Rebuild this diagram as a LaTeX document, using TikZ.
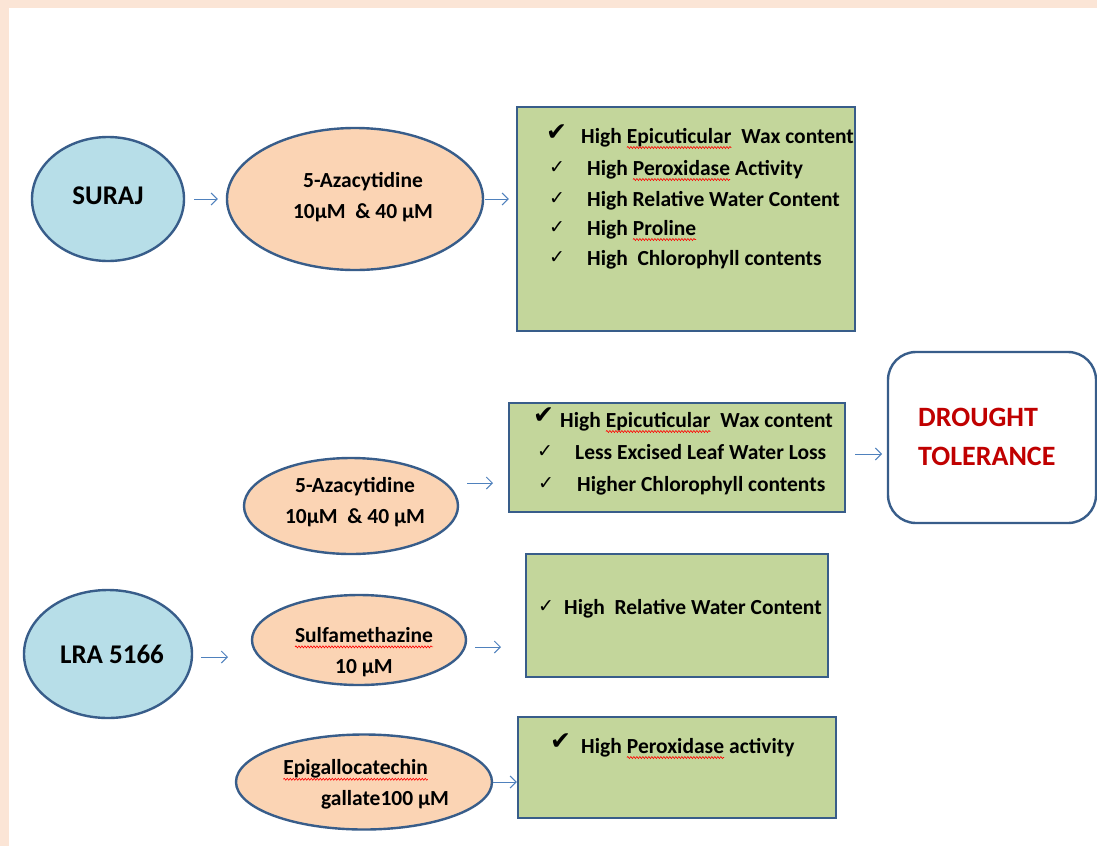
\documentclass[tikz,border=0pt]{standalone}
\usepackage{fontspec}
\setmainfont{Carlito}
\newfontfamily\dejavu{DejaVu Sans}
\usetikzlibrary{arrows.meta,shapes.geometric,decorations.pathmorphing}
\definecolor{peach}{HTML}{FBE5D6}
\definecolor{ellblue}{HTML}{B7DEE8}
\definecolor{ellpeach}{HTML}{FBD4B4}
\definecolor{boxgreen}{HTML}{C3D69B}
\definecolor{bord}{HTML}{385D8A}
\definecolor{arrblue}{HTML}{4F81BD}
\definecolor{dred}{HTML}{C00000}
\newcommand\sq[1]{\tikz[baseline=(w.base),x=1pt,y=1pt]{\node[inner sep=0pt,outer sep=0pt,anchor=base west](w) at (0,0){#1};
  \draw[red,line width=0.6pt,decorate,decoration={snake,amplitude=1pt,segment length=3pt}] ([yshift=-4.5pt]w.base west) -- ([yshift=-4.5pt]w.base east);}}
\begin{document}
\begin{tikzpicture}[x=1pt,y=-1pt,
  ell/.style={ellipse, draw=bord, line width=2.4pt, inner sep=0pt},
  blueell/.style={ell, fill=ellblue},
  peachell/.style={ell, fill=ellpeach},
  gbox/.style={rectangle, draw=bord, line width=2.4pt, fill=boxgreen, inner sep=0pt},
  arr/.style={draw=arrblue, line width=1pt, -{Straight Barb[length=6pt,width=12pt]}},
  txt/.style={font=\bfseries\fontsize{21.5}{31}\selectfont, inner sep=0pt, align=center},
  item/.style={font=\bfseries\fontsize{21.5}{24}\selectfont, inner sep=0pt, anchor=base west},
  chk/.style={font=\dejavu\fontsize{19}{22}\selectfont, inner sep=0pt, anchor=base west},
  bigchk/.style={font=\dejavu\fontsize{25}{28}\selectfont, inner sep=0pt, anchor=base west}]
% background
\fill[peach] (0,0) rectangle (1097,846);
\fill[white] (9,8) rectangle (1097,846);
\useasboundingbox (0,0) rectangle (1097,846);

% nodes
\node[blueell, minimum width=152pt, minimum height=124pt] (suraj) at (108,199) {};
\node[txt, font=\bfseries\fontsize{27}{30}\selectfont] (surajt) at (108,196) {SURAJ};
\node[peachell, minimum width=256pt, minimum height=142pt] (aza1) at (355,199) {};
\node[txt] (aza1t) at (363,197) {5-Azacytidine\\10μM~~\& 40 μM};
\node[gbox, minimum width=338pt, minimum height=224pt] (b1) at (686,219) {};

\node[peachell, minimum width=214pt, minimum height=96pt] (aza2) at (351,506) {};
\node[txt] (aza2t) at (355,502) {5-Azacytidine\\10μM~~\& 40 μM};
\node[gbox, minimum width=336pt, minimum height=109pt] (b2) at (677,457.5) {};
\node[rectangle, rounded corners=28pt, draw=bord, line width=2.4pt, fill=white,
      minimum width=208pt, minimum height=171pt] (dt) at (992,437.5) {};
\node[font=\bfseries\fontsize{28}{39}\selectfont, text=dred, align=left, inner sep=0pt,
      anchor=west] (dtt) at (918,437) {DROUGHT\\TOLERANCE};

\node[blueell, minimum width=168pt, minimum height=128pt] (lra) at (108,654) {};
\node[txt, font=\bfseries\fontsize{27}{30}\selectfont] (lrat) at (112,654) {LRA 5166};
\node[peachell, minimum width=214pt, minimum height=90pt] (sulfa) at (359,640) {};
\node[txt] (sulfat) at (364,652) {\sq{Sulfamethazine}\\10 μM};
\node[gbox, minimum width=302pt, minimum height=123pt] (b3) at (677,615.5) {};

\node[peachell, minimum width=256pt, minimum height=95pt] (epi) at (364,782) {};
\node[txt, align=left] (epit) at (366,784.5) {\sq{Epigallocatechin}\\\hspace*{38pt}gallate100 μM};
\node[gbox, minimum width=318pt, minimum height=101pt] (b4) at (677,767.5) {};

% box items
\node[bigchk] (c11) at (546,140) {✔};
\node[item] (i11) at (581,143) {High \sq{Epicuticular}~~Wax content};
\node[chk] (c12) at (549,173) {✓};
\node[item] (i12) at (587,175) {High \sq{Peroxidase} Activity};
\node[chk] (c13) at (549,204) {✓};
\node[item] (i13) at (587,206) {High Relative Water Content};
\node[chk] (c14) at (549,233) {✓};
\node[item] (i14) at (587,235) {High \sq{Proline}};
\node[chk] (c15) at (549,263) {✓};
\node[item] (i15) at (587,265) {High~~Chlorophyll~contents};

\node[bigchk] (c21) at (533,423) {✔};
\node[item] (i21) at (560,427) {High \sq{Epicuticular}~~Wax content};
\node[chk] (c22) at (537,457) {✓};
\node[item] (i22) at (575,459) {Less Excised Leaf Water Loss};
\node[chk] (c23) at (538,489) {✓};
\node[item] (i23) at (577,491) {Higher Chlorophyll contents};

\node[chk] (c31) at (538,612) {✓};
\node[item] (i31) at (564,614) {High~~Relative Water Content};

\node[bigchk] (c41) at (550,749) {✔};
\node[item] (i41) at (581,753) {High \sq{Peroxidase} activity};

% connectors
\coordinate (a3s) at (467,483);
\coordinate (a3e) at (493,483);
\coordinate (a4s) at (855,454);
\coordinate (a4e) at (882,454);
\coordinate (a5s) at (201,657);
\coordinate (a5e) at (228,657);
\coordinate (a6s) at (475,647);
\coordinate (a6e) at (501,647);
\draw[arr] ([xshift=9pt]suraj.east) -- ([xshift=-8pt]aza1.west);
\draw[arr, shorten <=1pt, shorten >=7pt] (aza1.east) -- (aza1.east -| b1.west);
\draw[arr] (a3s) -- (a3e);
\draw[arr] (a4s) -- (a4e);
\draw[arr] (a5s) -- (a5e);
\draw[arr] (a6s) -- (a6e);
\draw[arr] (epi.east) -- (epi.east -| b4.west);
\end{tikzpicture}
\end{document}
